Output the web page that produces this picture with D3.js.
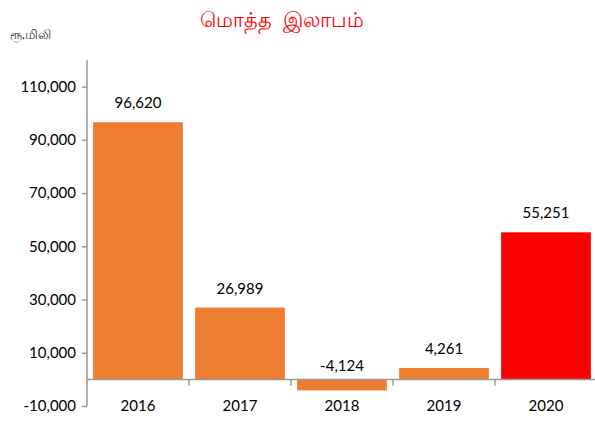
<!DOCTYPE html>
<html>
<head>
<meta charset="utf-8">
<script src="https://cdn.jsdelivr.net/npm/d3@7"></script>
<style>
  body { margin: 0; background: #fff; }
  text { font-family: Lato, "Noto Sans", sans-serif; }
</style>
</head>
<body>
<svg width="595" height="424"></svg>
<script>
const years = [ '2016', '2017', '2018', '2019', '2020' ];
const profit = [ 96620, 26989, -4124, 4261, 55251 ];
const barColors = [ '#ED7D31', '#ED7D31', '#ED7D31', '#ED7D31', '#FF0000' ];
const yTicks = [ -10000, 10000, 30000, 50000, 70000, 90000, 110000 ];

const svg = d3.select( 'svg' );
// excel style: plain hyphen for negatives
const fmt = d => d3.format( ',' )( d ).replace( '\u2212', '-' );

const x = d3.scaleBand()
  .domain( years )
  .range( [ 87, 597 ] )
  .paddingInner( 0.12 )
  .paddingOuter( 0.06 );

const y = d3.scaleLinear()
  .domain( [ -10000, 120000 ] )
  .range( [ 406, 60 ] );

// title and unit
svg.append( 'text' )
  .attr( 'x', 282 )
  .attr( 'y', 27 )
  .attr( 'text-anchor', 'middle' )
  .attr( 'fill', '#FF0000' )
  .style( 'font-size', '21px' )
  .style( 'white-space', 'pre' )
  .text( 'மொத்த  இலாபம்' );

svg.append( 'text' )
  .attr( 'x', 10 )
  .attr( 'y', 39 )
  .attr( 'fill', '#333' )
  .style( 'font-size', '12.5px' )
  .text( 'ரூ.மிலி' );

// bars
svg.selectAll( 'rect.bar' )
  .data( profit )
  .join( 'rect' )
  .attr( 'class', 'bar' )
  .attr( 'x', ( d, i ) => x( years[ i ] ) )
  .attr( 'y', d => y( Math.max( d, 0 ) ) )
  .attr( 'width', x.bandwidth() )
  .attr( 'height', d => Math.abs( y( d ) - y( 0 ) ) )
  .attr( 'fill', ( d, i ) => barColors[ i ] );

// y axis
const yAxis = svg.append( 'g' )
  .attr( 'transform', 'translate(' + x.range()[ 0 ] + ',0)' )
  .call( d3.axisLeft( y ).tickValues( yTicks ).tickSize( 5 ).tickPadding( 6 ).tickFormat( fmt ) );
yAxis.select( '.domain' ).attr( 'stroke', '#999' ).attr( 'stroke-width', 1.5 )
  .attr( 'd', 'M0,' + y( -10000 ) + 'V60' );
yAxis.selectAll( '.tick line' ).attr( 'stroke', '#999' ).attr( 'stroke-width', 1.5 );
yAxis.selectAll( '.tick text' ).attr( 'fill', '#000' ).style( 'font-size', '15px' );

// x axis on zero line, ticks at category boundaries
const xAxis = svg.append( 'g' )
  .attr( 'transform', 'translate(0,' + y( 0 ) + ')' );
xAxis.append( 'line' )
  .attr( 'x1', x.range()[ 0 ] ).attr( 'x2', 595 )
  .attr( 'stroke', '#999' ).attr( 'stroke-width', 1.5 );
xAxis.selectAll( 'line.sep' )
  .data( years )
  .join( 'line' )
  .attr( 'class', 'sep' )
  .attr( 'x1', d => x( d ) + x.bandwidth() + x.step() * x.paddingInner() / 2 )
  .attr( 'x2', d => x( d ) + x.bandwidth() + x.step() * x.paddingInner() / 2 )
  .attr( 'y1', 0 ).attr( 'y2', 6 )
  .attr( 'stroke', '#999' ).attr( 'stroke-width', 1.5 );

svg.selectAll( 'text.cat' )
  .data( years )
  .join( 'text' )
  .attr( 'class', 'cat' )
  .attr( 'x', d => x( d ) + x.bandwidth() / 2 )
  .attr( 'y', 411 )
  .attr( 'text-anchor', 'middle' )
  .attr( 'fill', '#000' )
  .style( 'font-size', '15px' )
  .text( d => d );

// value labels
svg.selectAll( 'text.val' )
  .data( profit )
  .join( 'text' )
  .attr( 'class', 'val' )
  .attr( 'x', ( d, i ) => x( years[ i ] ) + x.bandwidth() / 2 )
  .attr( 'y', d => y( Math.max( d, 0 ) ) - ( d < 0 ? 8 : 14 ) )
  .attr( 'text-anchor', 'middle' )
  .attr( 'fill', '#000' )
  .style( 'font-size', '15px' )
  .text( d => fmt( d ) );
</script>
</body>
</html>
